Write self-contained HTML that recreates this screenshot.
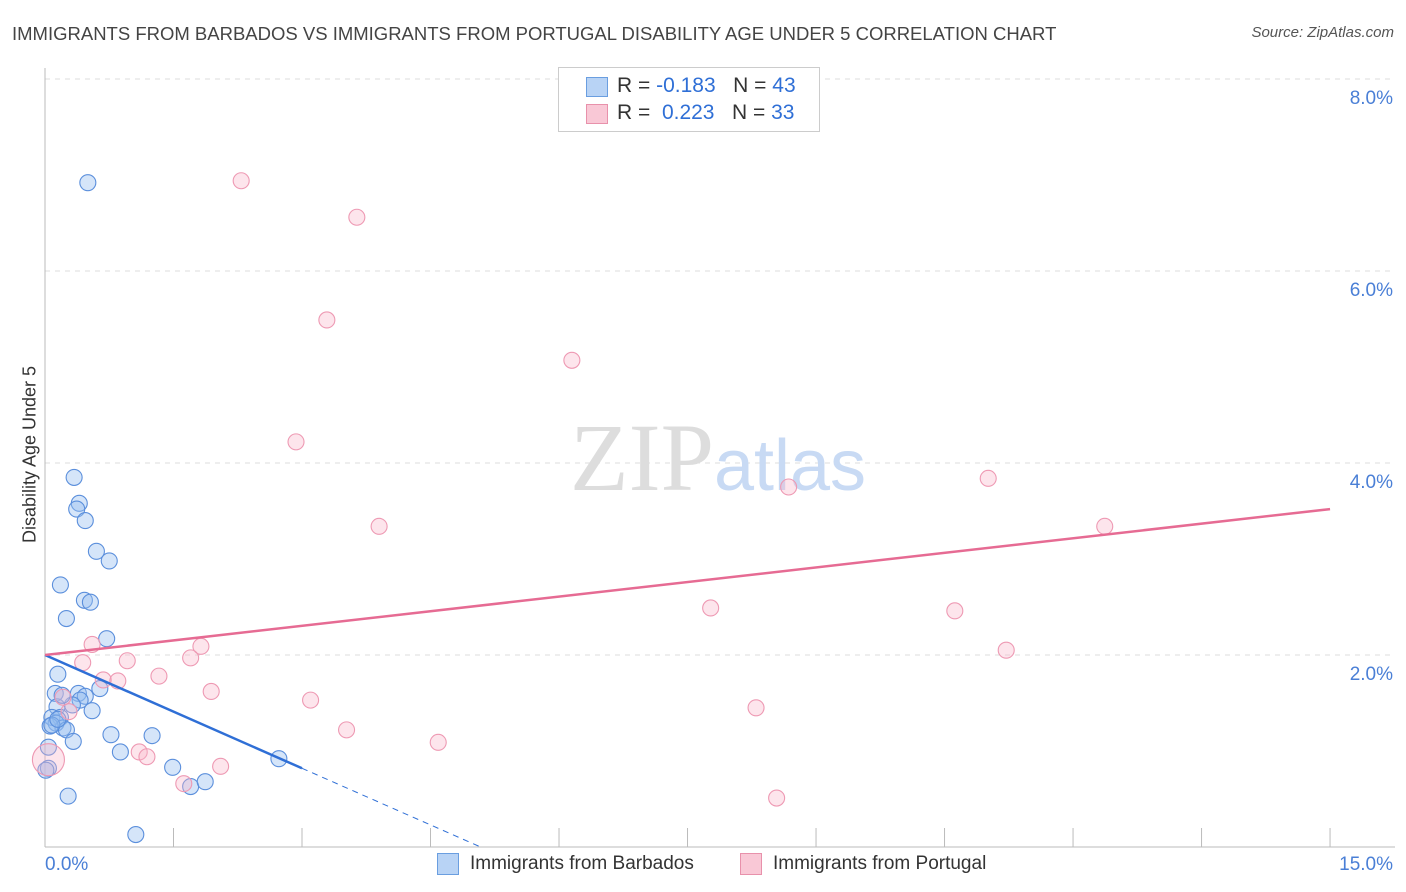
<!DOCTYPE html>
<html><head><meta charset="utf-8"><style>
body{margin:0;background:#fff;font-family:"Liberation Sans",sans-serif;}
#wrap{position:relative;width:1406px;height:892px;overflow:hidden;}
.t{position:absolute;white-space:nowrap;}
</style></head><body>
<div id="wrap">
<div class="t" style="left:12px;top:23px;font-size:18.5px;color:#444;">IMMIGRANTS FROM BARBADOS VS IMMIGRANTS FROM PORTUGAL DISABILITY AGE UNDER 5 CORRELATION CHART</div>
<div class="t" style="right:12px;top:24px;font-size:15px;color:#555;font-style:italic;">Source: ZipAtlas.com</div>
<div class="t" style="left:-60px;top:444px;font-size:18px;color:#333;transform:rotate(-90deg);width:180px;text-align:center;">Disability Age Under 5</div>
<svg id="svg" width="1406" height="892" style="position:absolute;left:0;top:0"></svg>
<div style="position:absolute;left:558px;top:67px;width:260px;height:63px;border:1px solid #ccc;background:#fff;">
<div style="position:absolute;left:27px;top:9px;width:20px;height:18px;background:#b8d3f5;border:1px solid #6a9ee0;"></div>
<div class="t" style="left:58px;top:6px;font-size:21px;color:#333;">R = <span style="color:#2f6fd6">-0.183</span> &nbsp;&nbsp;N = <span style="color:#2f6fd6">43</span></div>
<div style="position:absolute;left:27px;top:36px;width:20px;height:18px;background:#f9c8d6;border:1px solid #e891ab;"></div>
<div class="t" style="left:58px;top:33px;font-size:21px;color:#333;">R = &nbsp;<span style="color:#2f6fd6">0.223</span> &nbsp;&nbsp;N = <span style="color:#2f6fd6">33</span></div>
</div>
<div style="position:absolute;left:437px;top:853px;width:20px;height:20px;background:#b8d3f5;border:1px solid #6a9ee0;"></div>
<div class="t" style="left:470px;top:853px;font-size:19px;color:#333;">Immigrants from Barbados</div>
<div style="position:absolute;left:740px;top:853px;width:20px;height:20px;background:#f9c8d6;border:1px solid #e891ab;"></div>
<div class="t" style="left:773px;top:853px;font-size:19px;color:#333;">Immigrants from Portugal</div>
</div>
<script>
const xTicks=[0,1.5,3,4.5,6,7.5,9,10.5,12,13.5,15];
const yTicks=[2,4,6,8];
const yTickLabels=["2.0%","4.0%","6.0%","8.0%"];
const xEndLabels=["0.0%","15.0%"];
const barbX=[0.50,0.34,0.40,0.37,0.47,0.60,0.75,0.18,0.46,0.53,0.25,0.72,0.15,0.12,0.39,0.47,0.41,0.64,0.14,0.55,0.08,0.18,0.13,0.21,0.25,0.06,0.33,0.77,1.25,0.88,0.04,0.04,1.49,0.01,2.73,1.70,1.87,0.27,1.06,0.08,0.15,0.32,0.20];
const barbY=[6.92,3.85,3.58,3.52,3.40,3.08,2.98,2.73,2.57,2.55,2.38,2.17,1.80,1.60,1.60,1.57,1.53,1.65,1.46,1.42,1.35,1.35,1.29,1.24,1.22,1.26,1.10,1.17,1.16,0.99,1.04,0.82,0.83,0.80,0.92,0.63,0.68,0.53,0.13,1.27,1.33,1.48,1.58];
const portX=[2.29,3.64,3.29,6.15,2.93,3.90,11.01,8.68,12.37,7.77,10.62,11.22,0.55,1.82,0.44,0.96,1.70,1.33,0.68,0.85,1.94,3.10,0.21,0.28,8.30,3.52,4.59,1.10,1.19,2.05,1.62,8.54,0.04];
const portY=[6.94,6.56,5.49,5.07,4.22,3.34,3.84,3.75,3.34,2.49,2.46,2.05,2.11,2.09,1.92,1.94,1.97,1.78,1.74,1.73,1.62,1.53,1.56,1.41,1.45,1.22,1.09,0.99,0.94,0.84,0.66,0.51,0.91];
const portTrend=[2.0,3.52];
const barbTrend=[2.0,0.82];
const NS="http://www.w3.org/2000/svg";
const svg=document.getElementById('svg');
const X=v=>45+v*85.67, Y=v=>847-v*96;
function mk(t,a){const e=document.createElementNS(NS,t);for(const k in a)e.setAttribute(k,a[k]);svg.appendChild(e);return e;}
yTicks.forEach((v,i)=>{
 const l=mk('line',{x1:45,x2:1395,y1:Y(v),y2:Y(v),stroke:'#ddd','stroke-dasharray':'5,5'});
 
 
 const t=mk('text',{x:1393,y:Y(v)+25,'text-anchor':'end','font-size':19,fill:'#4a7fd6','font-family':'Liberation Sans'});
 t.textContent=yTickLabels[i];
 
 
});
const ax=mk('line',{x1:45,x2:45,y1:68,y2:847,stroke:'#bbb'});


const bx=mk('line',{x1:45,x2:1395,y1:847,y2:847,stroke:'#bbb'});


xTicks.forEach(v=>{const l=mk('line',{x1:X(v),x2:X(v),y1:828,y2:847,stroke:'#bbb'});
 
 });
[[0,'start',45],[15,'end',1393]].forEach((d,i)=>{const t=mk('text',{x:d[2],y:870,'text-anchor':d[1],'font-size':19,fill:'#4a7fd6','font-family':'Liberation Sans'});t.textContent=xEndLabels[i];
 
 });
const wm=mk('text',{x:718,y:490,'text-anchor':'middle','font-size':96,fill:'#ddd','font-family':'Liberation Serif'});
wm.innerHTML='ZIP<tspan fill="#c8daf4" font-family="Liberation Sans" font-size="72">atlas</tspan>';


barbX.forEach((x,i)=>{const c=mk('circle',{cx:X(x),cy:Y(barbY[i]),r:8,fill:'rgba(150,190,240,0.4)',stroke:'#5b8fdc','stroke-width':1.1});
 
 });
portX.forEach((x,i)=>{const c=mk('circle',{cx:X(x),cy:Y(portY[i]),r:i==32?16:8,fill:'rgba(248,180,200,0.35)',stroke:'#ee99b3','stroke-width':1.1});
 
 });
const bs=(barbTrend[1]-barbTrend[0])/3, xz=-barbTrend[0]/bs;
const d1=mk('line',{x1:X(3),y1:Y(barbTrend[1]),x2:X(xz),y2:Y(0),stroke:'#2f6fd6','stroke-width':1,'stroke-dasharray':'6,5'});


const t1=mk('line',{x1:X(0),y1:Y(barbTrend[0]),x2:X(3),y2:Y(barbTrend[1]),stroke:'#2f6fd6','stroke-width':2.5});


const t2=mk('line',{x1:X(0),y1:Y(portTrend[0]),x2:X(15),y2:Y(portTrend[1]),stroke:'#e66b93','stroke-width':2.5});


</script>
</body></html>
